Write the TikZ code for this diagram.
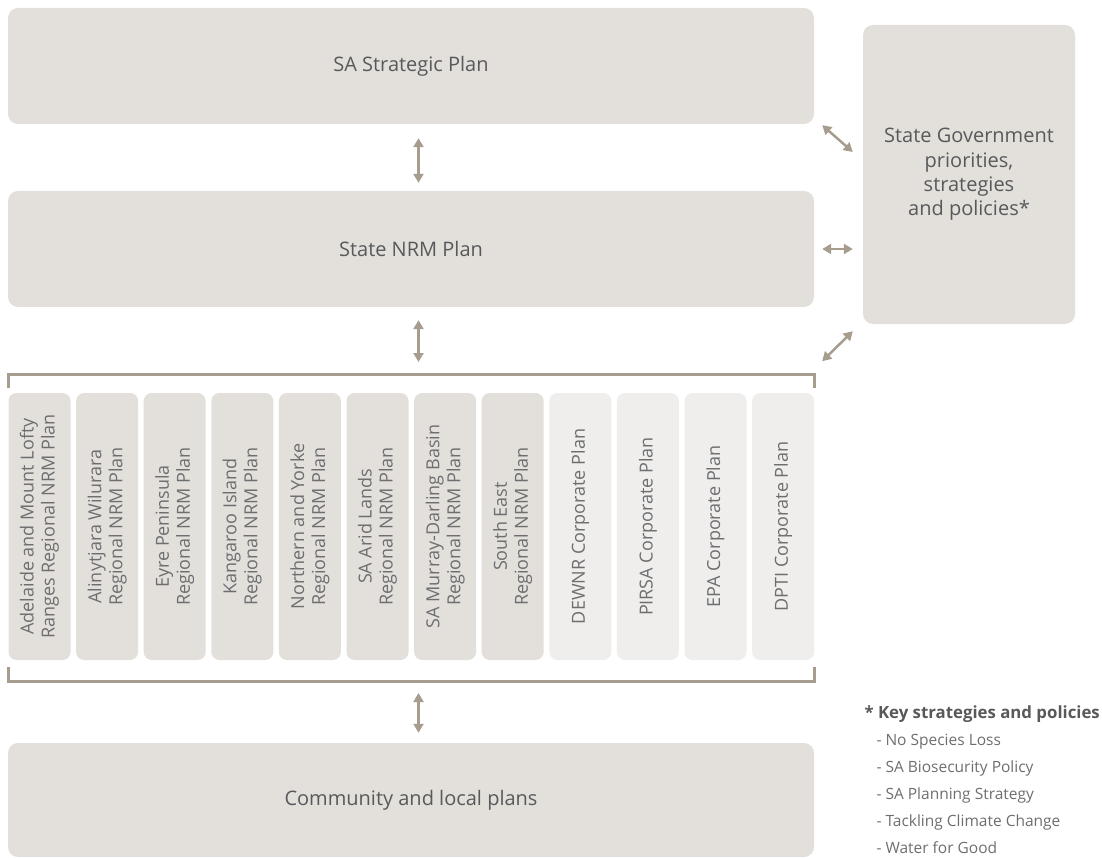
\documentclass[tikz,border=0pt]{standalone}
\usepackage{fontspec}
\setmainfont{Open Sans}
\usepackage{tikz}
\usetikzlibrary{arrows.meta, calc}
\usepackage{xcolor}
\definecolor{boxfill}{HTML}{E3E0DC}
\definecolor{corpfill}{HTML}{EFEEEC}
\definecolor{linkc}{HTML}{A69D8F}
\definecolor{txtc}{HTML}{58595B}
\definecolor{coltxt}{HTML}{6D6E70}

\begin{document}
\begin{tikzpicture}[
    x=1pt, y=-1pt,
    bigbox/.style={fill=boxfill, rounded corners=10pt, minimum width=806pt, minimum height=116pt, inner sep=0pt, text=txtc, font=\fontsize{20}{24.3}\selectfont},
    plancol/.style={fill=boxfill, rounded corners=8pt, rotate=90, minimum width=267pt, minimum height=62pt, inner sep=0pt, align=center, text=coltxt, font=\fontsize{18}{21}\selectfont},
    corpcol/.style={plancol, fill=corpfill},
    twoway/.style={{Triangle[width=10pt,length=9pt]}-{Triangle[width=10pt,length=9pt]}, line width=2.5pt, draw=linkc},
    bracket/.style={line width=3pt, draw=linkc},
    keyitem/.style={anchor=base west, text=coltxt, font=\fontsize{15.5}{18}\selectfont}
]
\useasboundingbox (0,0) rectangle (1102,858);

% Main plans
\node[bigbox] (strat) at (411, 66) {SA Strategic Plan};
\node[bigbox] (nrm) at (411, 249) {State NRM Plan};
\node[bigbox, minimum height=114pt] (comm) at (411, 800) {Community and local plans};

% State government box
\node[fill=boxfill, rounded corners=10pt, minimum width=212pt, minimum height=299pt, inner sep=0pt, align=center, text=txtc, font=\fontsize{20}{24.3}\selectfont] (gov) at (969, 174.5) {State Government\\priorities,\\strategies\\and policies*};

% Regional NRM plans
\node[plancol] (adl) at (39.5, 526.5) {Adelaide and Mount Lofty\\Ranges Regional NRM Plan};
\node[plancol] (aw) at (107.1, 526.5) {Alinytjara Wilurara\\Regional NRM Plan};
\node[plancol] (ep) at (174.7, 526.5) {Eyre Peninsula\\Regional NRM Plan};
\node[plancol] (ki) at (242.3, 526.5) {Kangaroo Island\\Regional NRM Plan};
\node[plancol] (ny) at (309.9, 526.5) {Northern and Yorke\\Regional NRM Plan};
\node[plancol] (sal) at (377.5, 526.5) {SA Arid Lands\\Regional NRM Plan};
\node[plancol] (mdb) at (445.1, 526.5) {SA Murray-Darling Basin\\Regional NRM Plan};
\node[plancol] (se) at (512.7, 526.5) {South East\\Regional NRM Plan};

% Corporate plans
\node[corpcol] (dewnr) at (580.3, 526.5) {DEWNR Corporate Plan};
\node[corpcol] (pirsa) at (647.9, 526.5) {PIRSA Corporate Plan};
\node[corpcol] (epa) at (715.5, 526.5) {EPA Corporate Plan};
\node[corpcol] (dpti) at (783.1, 526.5) {DPTI Corporate Plan};

% Brackets
\draw[bracket] (8, 388) -- (8, 374) -- (814, 374) -- (814, 388);
\draw[bracket] (8, 667) -- (8, 681) -- (814, 681) -- (814, 667);
\coordinate (ax) at (418.5, 0);
\coordinate (brtop) at (418.5, 374);
\coordinate (brbot) at (418.5, 681);

% Vertical links
\draw[twoway, shorten <=14pt, shorten >=8pt] (strat.south -| ax) -- (nrm.north -| ax);
\draw[twoway, shorten <=13pt, shorten >=12pt] (nrm.south -| ax) -- (brtop);
\draw[twoway, shorten <=12pt, shorten >=10pt] (brbot) -- (comm.north -| ax);

% Links to state government
\draw[twoway] ($(strat.south east)+(8,1)$) -- ($(gov.west)+(-10,-22.5)$);
\draw[twoway, shorten <=8pt, shorten >=10pt] (nrm.east) -- (nrm.east -| gov.west);
\draw[twoway] ($(strat.south east)+(8,237)$) -- ($(gov.south west)+(-10,7)$);

% Key
\node[anchor=base west, text=txtc, font=\fontsize{16.8}{20}\bfseries] (keyhead) at (861, 718) {* Key strategies and policies};
\node[keyitem] (k1) at (873, 745) {- No Species Loss};
\node[keyitem] (k2) at (873, 772) {- SA Biosecurity Policy};
\node[keyitem] (k3) at (873, 799) {- SA Planning Strategy};
\node[keyitem] (k4) at (873, 826) {- Tackling Climate Change};
\node[keyitem] (k5) at (873, 853) {- Water for Good};

\end{tikzpicture}
\end{document}
